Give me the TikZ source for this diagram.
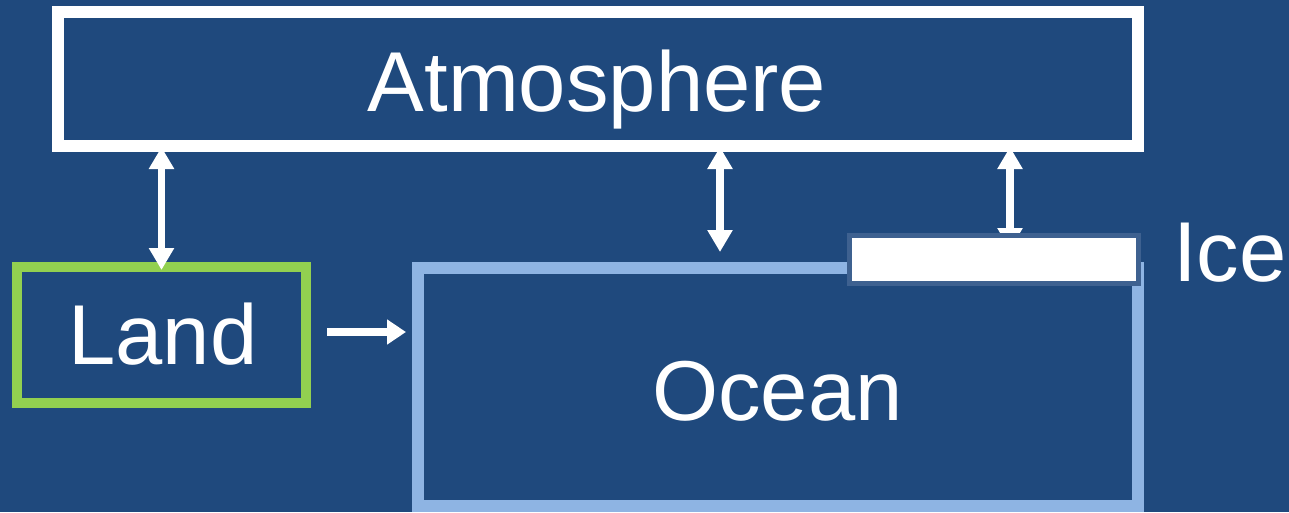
\documentclass[tikz,border=0pt]{standalone}
\usepackage{fontspec}
\setmainfont{Liberation Sans}
\usetikzlibrary{arrows.meta}
\definecolor{bg}{HTML}{1F497D}
\definecolor{oceanc}{HTML}{8EB4E3}
\definecolor{landc}{HTML}{92D050}
\definecolor{icebd}{HTML}{3E6190}
\pgfdeclarelayer{front}
\pgfsetlayers{main,front}
\tikzset{
  box/.style={rectangle, inner sep=0pt},
  link/.style={draw=white, line width=7.5pt, {Triangle[width=24pt,length=22pt]}-{Triangle[width=24pt,length=22pt]}},
  onelink/.style={draw=white, line width=7.5pt, -{Triangle[width=24pt,length=19pt]}},
  lbl/.style={text=white, font=\fontsize{85}{90}\selectfont, inner sep=0pt, anchor=base}
}
\begin{document}
\begin{tikzpicture}[x=1pt,y=-1pt]
\fill[bg] (0,0) rectangle (1289,512);
\useasboundingbox (0,0) rectangle (1289,512);
\node[box, draw=landc, line width=10pt, minimum width=289pt, minimum height=136pt] (land) at (161.5,335) {};
\begin{pgfonlayer}{front}
\node[box, draw=white, line width=12pt, minimum width=1080pt, minimum height=134pt] (atm) at (598,79) {};
\node[box, draw=oceanc, line width=12pt, minimum width=720pt, minimum height=238pt] (ocean) at (778,387) {};
\node[box, fill=white, draw=icebd, line width=5pt, minimum width=289pt, minimum height=48pt] (ice) at (994,259.5) {};
\node[lbl] (atmt) at (597,111) {Atmosphere};
\node[lbl] (oceant) at (777.5,420) {Ocean};
\node[lbl] (landt) at (163,364) {Land};
\node[lbl, anchor=base west] (icet) at (1173,281) {Ice};
\end{pgfonlayer}
\coordinate (rtip) at (1010,250);
\draw[link, shorten <=-5pt, shorten >=-8pt] (atm.south -| land.north) -- (land.north);
\draw[link, shorten <=-5pt, shorten >=10pt] (atm.south -| 720,0) -- (ocean.north -| 720,0);
\draw[link, shorten <=-5pt] (atm.south -| rtip) -- (rtip);
\draw[onelink, shorten <=16pt, shorten >=6pt] ([yshift=3pt]land.east) -- ([yshift=3pt]land.east -| ocean.west);
\end{tikzpicture}
\end{document}
